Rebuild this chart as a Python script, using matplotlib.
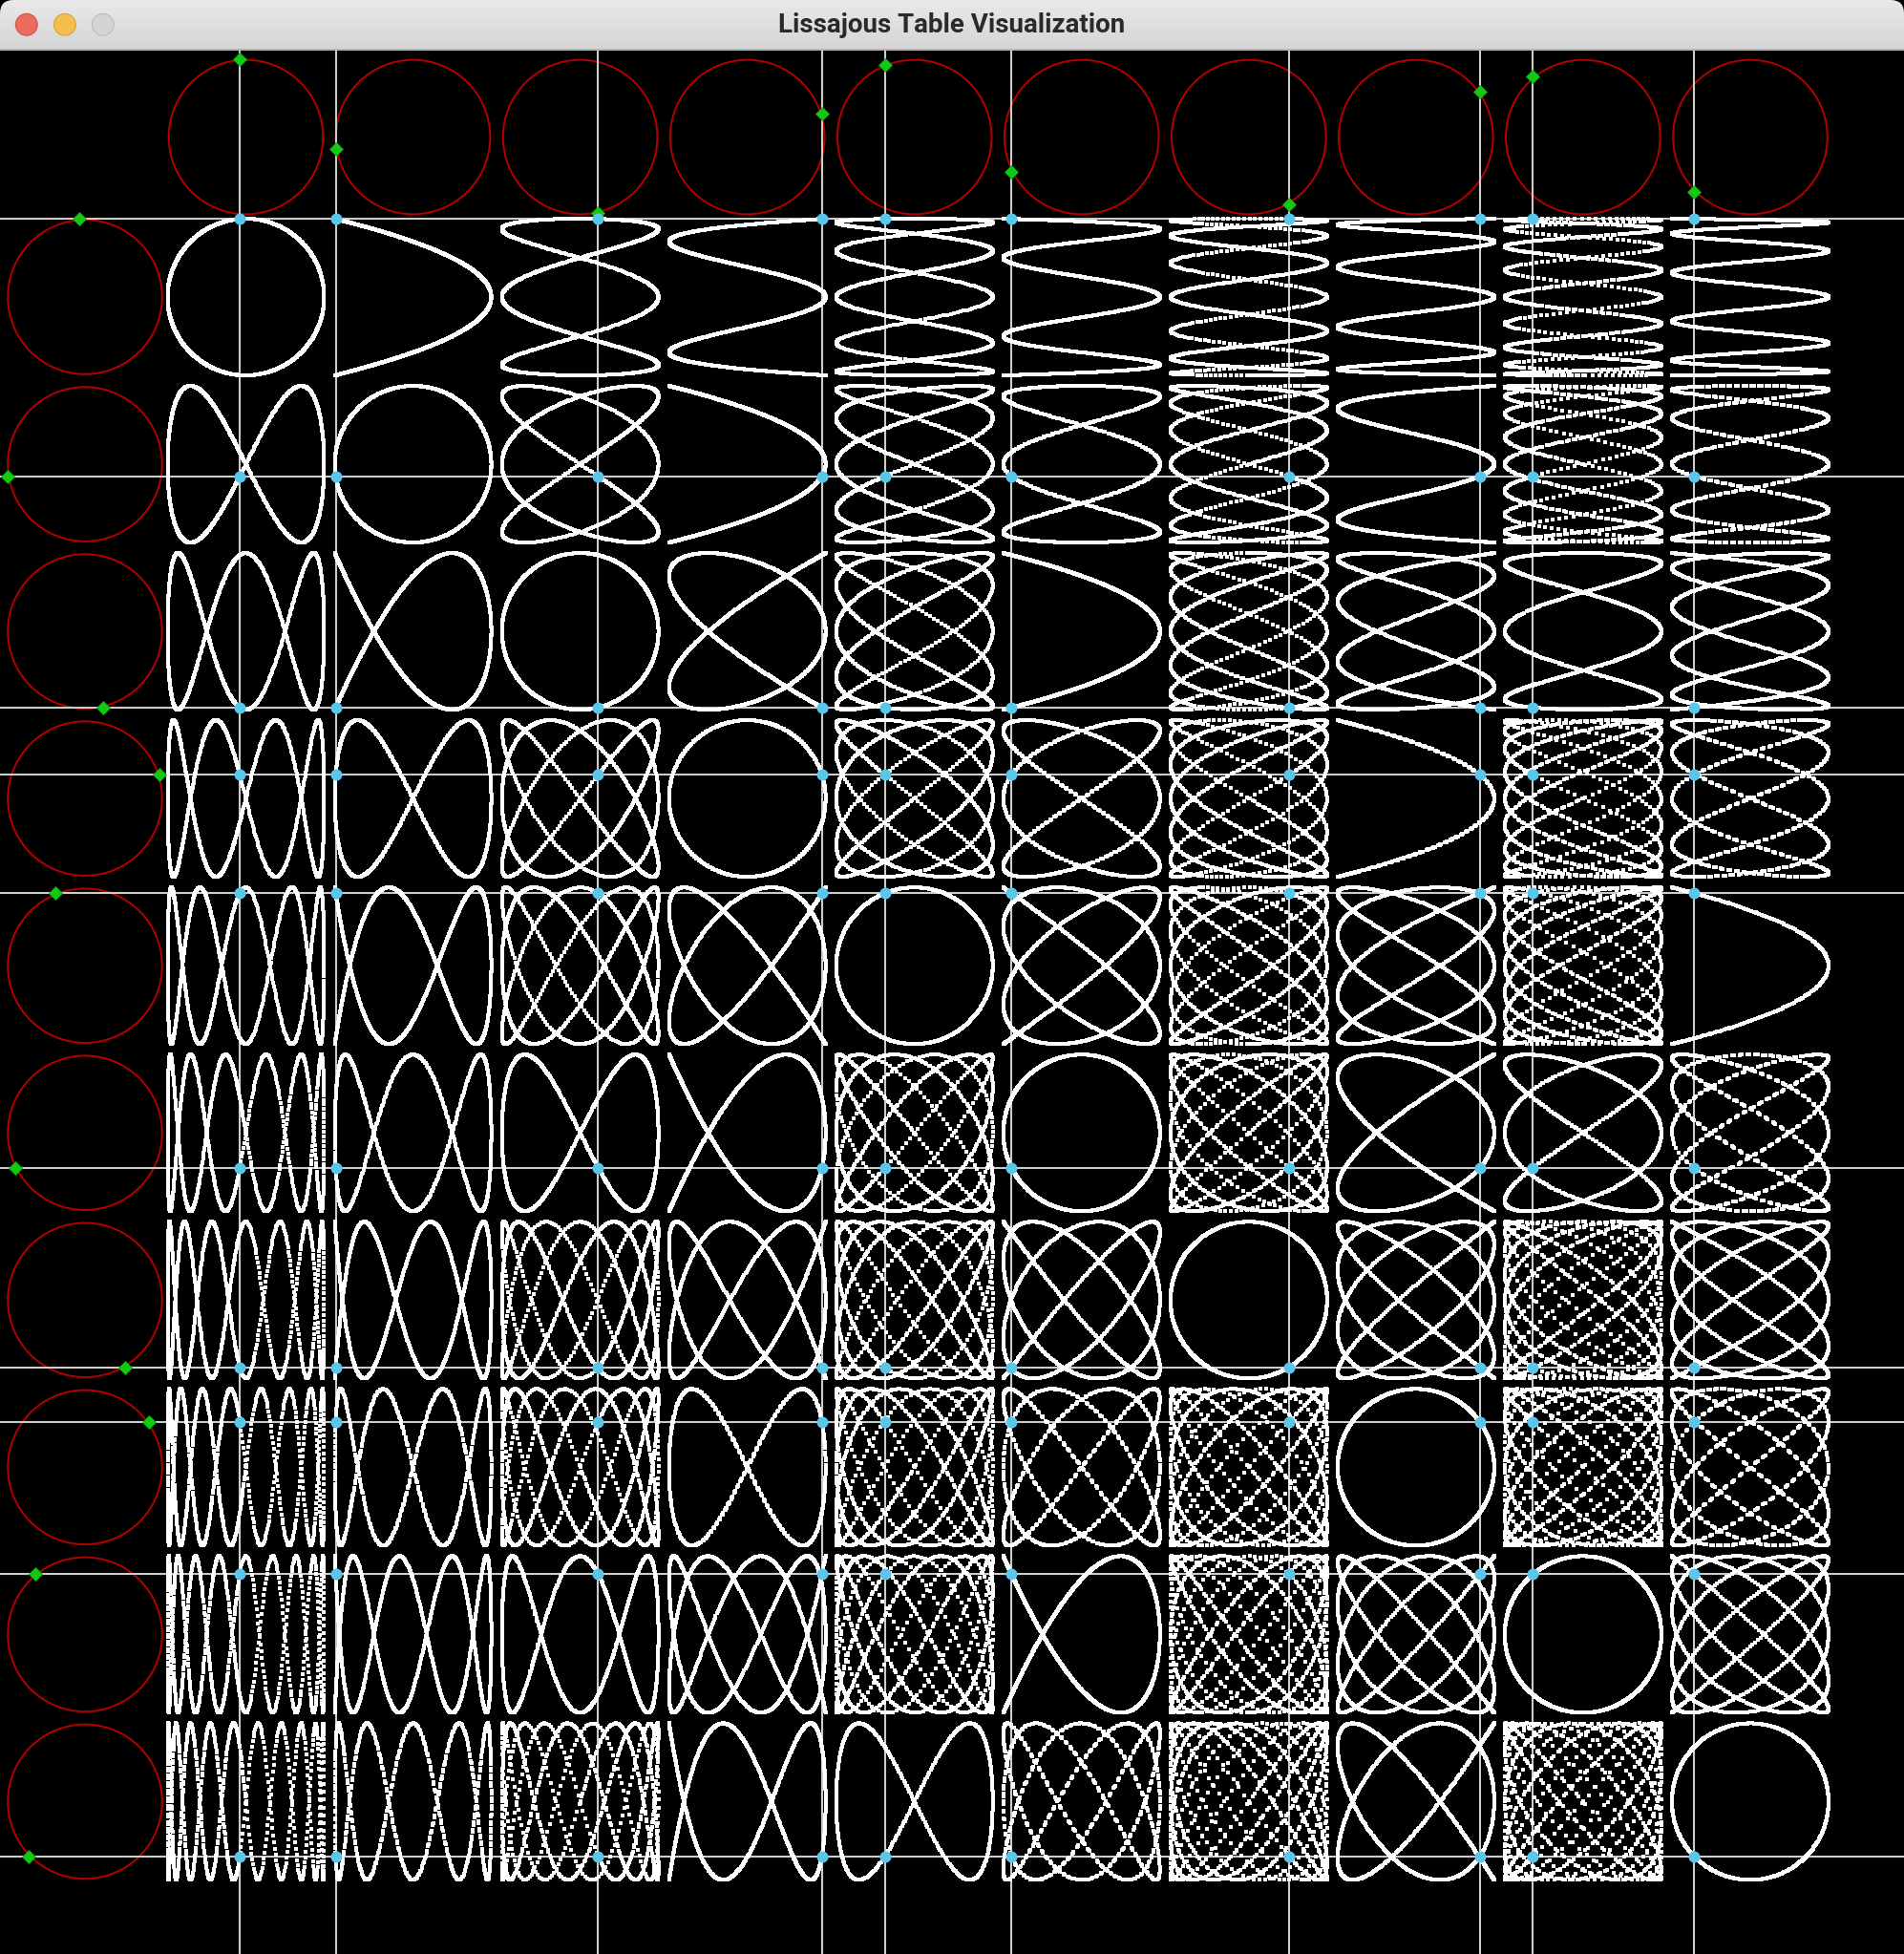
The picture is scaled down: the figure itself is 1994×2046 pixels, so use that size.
import numpy as np
import matplotlib
matplotlib.use("Agg")
import matplotlib.pyplot as plt
from matplotlib.patches import Circle, FancyBboxPatch, Rectangle

# ---------------- data ----------------
col_freqs = [1, 2, 3, 4, 5, 6, 7, 8, 9, 10]      # x frequency of each column circle
row_freqs = [1, 2, 3, 4, 5, 6, 7, 8, 9, 10]      # y frequency of each row circle
current_angle_deg = 94.42                          # current base angle of the animation
trail_start_deg = 630.0                            # base angle where the traced trail starts
angle_step = 0.01                                  # angle increment per animation frame (rad)
window_title = "Lissajous Table Visualization"

# ---------------- layout (pixels) ----------------
W, H = 1994, 2046
BAR_H = 52.5
GRID_X0, GRID_Y0 = 257.5, 311.0     # centre of cell (row 1, col 1)
STEP = 175.05                        # cell pitch
HEAD_X, HEAD_Y = 89.0, 143.5         # centre line of row / column header circles
R_PATH = 82.0                        # radius used for moving points and curves
R_CIRC = 80.8                        # radius of drawn header circles

fig = plt.figure(figsize=(W / 100, H / 100), dpi=100)
fig.patch.set_facecolor("black")
ax = fig.add_axes([0, 0, 1, 1])
ax.set_xlim(0, W)
ax.set_ylim(H, 0)
ax.axis("off")

# ---- window title bar ----
grad = np.linspace(0, 1, 64).reshape(-1, 1)
top_c = np.array([0.915, 0.915, 0.915])
bot_c = np.array([0.835, 0.835, 0.835])
img = top_c + (bot_c - top_c) * grad[..., None]
img = np.repeat(img, 2, axis=1)
bar_clip = FancyBboxPatch((0, 0), W, BAR_H + 30, boxstyle="round,pad=0,rounding_size=14",
                          transform=ax.transData, facecolor="none", edgecolor="none")
ax.add_patch(bar_clip)
im = ax.imshow(img, extent=[0, W, BAR_H, 0], aspect="auto", zorder=0, interpolation="bilinear")
im.set_clip_path(bar_clip)
ax.add_patch(Rectangle((0, BAR_H - 1.2), W, 1.6, facecolor="#b4b4b4", edgecolor="none", zorder=1))
ax.add_patch(Rectangle((0, BAR_H + 0.4), W, H - BAR_H, facecolor="black", edgecolor="none", zorder=0.5))

for cx, fc, ec in [(27.8, "#ed6a5e", "#cf5247"), (67.9, "#f5bf4f", "#d7a13e"), (107.8, "#d4d4d4", "#bcbcbc")]:
    ax.add_patch(Circle((cx, 25.8), 11.4, facecolor=fc, edgecolor=ec, lw=0.8, zorder=2))

ax.text(W / 2, 26.0, window_title, ha="center", va="center", fontsize=20,
        fontweight="bold", color="#2a2a2a", family=["Roboto", "DejaVu Sans"], zorder=3)

theta = np.deg2rad(current_angle_deg)
col_cx = [GRID_X0 + c * STEP for c in range(len(col_freqs))]
row_cy = [GRID_Y0 + r * STEP for r in range(len(row_freqs))]

# ---- header circles, moving dots, guide lines ----
col_px = []
for cx, f in zip(col_cx, col_freqs):
    ax.add_patch(Circle((cx, HEAD_Y), R_CIRC, facecolor="none", edgecolor="#b00000", lw=1.45, zorder=2))
    px = cx + R_PATH * np.cos(f * theta)
    py = HEAD_Y - R_PATH * np.sin(f * theta)
    col_px.append(px)
    ax.plot([px], [py], marker="D", ms=7.5, color="#14c814", mec="#0fa80f", mew=0.6, zorder=6)
row_py = []
for cy, f in zip(row_cy, row_freqs):
    ax.add_patch(Circle((HEAD_X, cy), R_CIRC, facecolor="none", edgecolor="#b00000", lw=1.45, zorder=2))
    px = HEAD_X + R_PATH * np.cos(f * theta)
    py = cy - R_PATH * np.sin(f * theta)
    row_py.append(py)
    ax.plot([px], [py], marker="D", ms=7.5, color="#14c814", mec="#0fa80f", mew=0.6, zorder=6)

ax.vlines(col_px, BAR_H + 0.5, H, colors="#cccccc", lw=1.5, zorder=3)
ax.hlines(row_py, 0, W, colors="#cccccc", lw=1.5, zorder=3)

# ---- Lissajous curves (trail of sampled points) ----
t_start = np.deg2rad(trail_start_deg)
n_pts = int(np.floor((t_start - theta) / angle_step)) + 1
t = t_start - np.arange(n_pts) * angle_step
xs, ys = [], []
for r, fy in enumerate(row_freqs):
    for c, fx in enumerate(col_freqs):
        xs.append(col_cx[c] + R_PATH * np.cos(fx * t))
        ys.append(row_cy[r] - R_PATH * np.sin(fy * t))
xs = np.concatenate(xs)
ys = np.concatenate(ys)
ax.scatter(xs, ys, s=11.0, marker="s", c="white", linewidths=0, zorder=4)

# ---- current intersection points ----
ix, iy = [], []
for r, fy in enumerate(row_freqs):
    for c, fx in enumerate(col_freqs):
        ix.append(col_cx[c] + R_PATH * np.cos(fx * theta))
        iy.append(row_cy[r] - R_PATH * np.sin(fy * theta))
ax.scatter(ix, iy, s=75, marker="o", c="#5ac6ea", linewidths=0, zorder=7)

fig.savefig("out.png", dpi=100, facecolor="black")
